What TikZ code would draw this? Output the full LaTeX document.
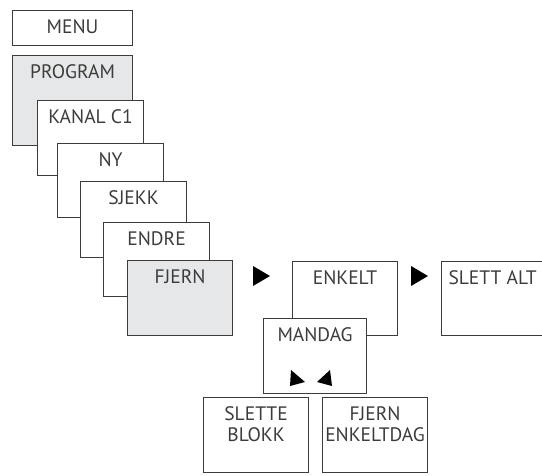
\documentclass[tikz,border=0pt]{standalone}
\usepackage{fontspec}
\setmainfont{PT Sans}
\definecolor{trait}{HTML}{3C3C3C}
\definecolor{grisecran}{HTML}{E6E7E8}

\begin{document}
\begin{tikzpicture}[x=1pt, y=-1pt,
    ecran/.style={draw=trait, line width=1.1pt, fill=white, anchor=north west, inner sep=0pt},
    titre/.style={anchor=north, yshift=-9pt, inner sep=0pt, align=center, text=trait,
      font=\fontsize{19.5}{21}\selectfont}]
    \clip (0,0) rectangle (542,475);
    % menu principal
    \node[ecran, minimum width=120pt, minimum height=35pt, label={[titre]north:MENU}] (menu) at (12,10) {};
    % pile des ecrans
    \node[ecran, fill=grisecran, minimum width=120pt, minimum height=90pt, label={[titre]north:PROGRAM}] (program) at (12,55) {};
    \node[ecran, minimum width=106pt, minimum height=75pt, label={[titre]north:KANAL C1}] (kanal) at (37,100) {};
    \node[ecran, minimum width=106pt, minimum height=74pt, label={[titre]north:NY}] (ny) at (57,143) {};
    \node[ecran, minimum width=106pt, minimum height=76pt, label={[titre]north:SJEKK}] (sjekk) at (80,181) {};
    \node[ecran, minimum width=106pt, minimum height=74pt, label={[titre]north:ENDRE}] (endre) at (103,222) {};
    \node[ecran, fill=grisecran, minimum width=105pt, minimum height=75pt, label={[titre]north:FJERN}] (fjern) at (127,260) {};
    % sous-menus
    \node[ecran, minimum width=105pt, minimum height=74pt, label={[titre]north:ENKELT}] (enkelt) at (292,261) {};
    \node[ecran, minimum width=130pt, minimum height=74pt, label={[titre, xshift=-14pt]north:SLETT ALT}] (slettalt) at (441,261) {};
    \node[ecran, minimum width=103pt, minimum height=75pt, label={[titre]north:MANDAG}] (mandag) at (263,318) {};
    \node[ecran, minimum width=105pt, minimum height=75pt, label={[titre]north:SLETTE\\BLOKK}] (slette) at (203,397) {};
    \node[ecran, minimum width=105pt, minimum height=75pt, label={[titre]north:FJERN\\ENKELTDAG}] (fjernenkelt) at (322,397) {};
    % fleches
    \fill[black] (253,266) -- (253,286) -- (270,276) -- cycle;
    \fill[black] (411,266) -- (411,286) -- (428,276) -- cycle;
    \fill[black] (291,370) -- (290,386) -- (305,382) -- cycle;
    \fill[black] (330,370) -- (317,382) -- (332,386) -- cycle;
\end{tikzpicture}
\end{document}
